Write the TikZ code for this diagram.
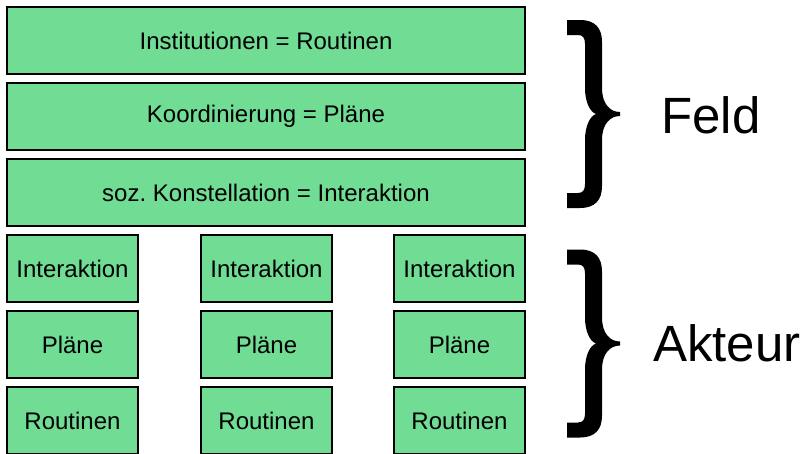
\documentclass[tikz,border=0pt]{standalone}
\usepackage{fontspec}
\setmainfont{Liberation Sans}
\usepackage{tikz}

\definecolor{boxgreen}{HTML}{70DC94}

\tikzset{klammer/.pic={
  \fill (-53,94) -- (-40,94) .. controls (-25,94) and (-18,86) .. (-18,72)
    -- (-18,26) .. controls (-18,10) and (-10,2) .. (0,2)
    -- (0,-2) .. controls (-10,-2) and (-18,-10) .. (-18,-26)
    -- (-18,-72) .. controls (-18,-86) and (-25,-94) .. (-40,-94)
    -- (-53,-94) -- (-53,-79) -- (-42,-79) .. controls (-37,-79) and (-35,-76) .. (-35,-70)
    -- (-35,-26) .. controls (-35,-12) and (-30,-2) .. (-24,0)
    .. controls (-30,2) and (-35,12) .. (-35,26)
    -- (-35,70) .. controls (-35,76) and (-37,79) .. (-42,79)
    -- (-53,79) -- cycle;
}}

\begin{document}
\begin{tikzpicture}[x=1pt,y=1pt,
  box/.style={draw=black,line width=1.3pt,fill=boxgreen,inner sep=0pt,
    font=\fontsize{24}{24}\selectfont,minimum height=67pt},
  wide/.style={box,minimum width=518pt},
  small/.style={box,minimum width=131pt},
  label/.style={inner sep=0pt,anchor=base west,font=\fontsize{51}{51}\selectfont}]
\useasboundingbox (0,0) rectangle (805,-453);
% Feld
\node [wide] (inst) at (266,-40.5) {Institutionen = Routinen};
\node [wide] (koord) at (266,-116.5) {Koordinierung = Pl\"ane};
\node [wide] (konst) at (266,-192.5) {soz.\ Konstellation = Interaktion};
% Akteure
\node [small] (ia) at (72.5,-268.5) {Interaktion};
\node [small] (pa) at (72.5,-344.5) {Pl\"ane};
\node [small] (ra) at (72.5,-420.5) {Routinen};
\node [small] (ib) at (266.5,-268.5) {Interaktion};
\node [small] (pb) at (266.5,-344.5) {Pl\"ane};
\node [small] (rb) at (266.5,-420.5) {Routinen};
\node [small] (ic) at (459.5,-268.5) {Interaktion};
\node [small] (pc) at (459.5,-344.5) {Pl\"ane};
\node [small] (rc) at (459.5,-420.5) {Routinen};
% Klammern
\pic at (620,-114) {klammer};
\pic at (620,-343.5) {klammer};
\node [label] (feld) at (661,-133.3) {Feld};
\node [label] (akteur) at (653,-361.7) {Akteur};
\end{tikzpicture}
\end{document}
